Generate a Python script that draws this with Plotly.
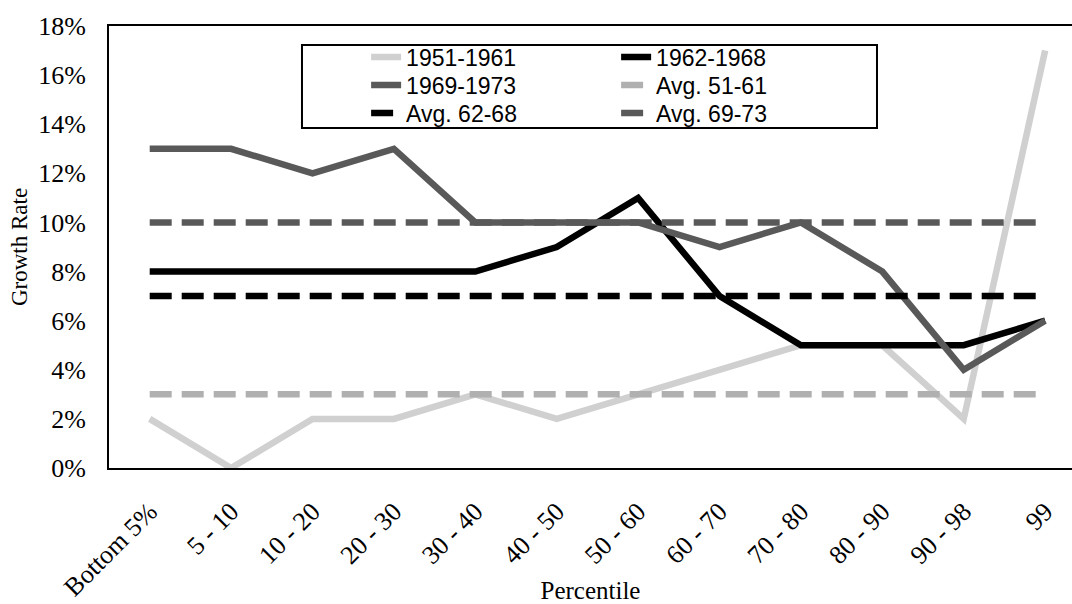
import plotly.graph_objects as go

# Income percentile groups (x-axis categories)
percentiles = ["Bottom 5%", "5 - 10", "10 - 20", "20 - 30", "30 - 40", "40 - 50",
               "50 - 60", "60 - 70", "70 - 80", "80 - 90", "90 - 98", "99"]

# Growth rate (%) by percentile for each period
growth_1951_1961 = [2, 0, 2, 2, 3, 2, 3, 4, 5, 5, 2, 17]
growth_1962_1968 = [8, 8, 8, 8, 8, 9, 11, 7, 5, 5, 5, 6]
growth_1969_1973 = [13, 13, 12, 13, 10, 10, 10, 9, 10, 8, 4, 6]

# Period averages (%)
avg_51_61 = 3
avg_62_68 = 7
avg_69_73 = 10

y_ticks = [0, 2, 4, 6, 8, 10, 12, 14, 16, 18]
y_tick_labels = [f"{v}%" for v in y_ticks]

LIGHT = "#d0d0d0"
MID = "#b0b0b0"
DARK = "#595959"
BLACK = "#000000"
DASH = "22px,10px"
LW = 6.5

fig = go.Figure()

# (name, values, colour, dash, legend row)
series = [
    ("1951-1961", growth_1951_1961, LIGHT, "solid", "legend"),
    ("1962-1968", growth_1962_1968, BLACK, "solid", "legend"),
    ("1969-1973", growth_1969_1973, DARK, "solid", "legend2"),
    ("Avg. 51-61", [avg_51_61] * len(percentiles), MID, DASH, "legend2"),
    ("Avg. 62-68", [avg_62_68] * len(percentiles), BLACK, DASH, "legend3"),
    ("Avg. 69-73", [avg_69_73] * len(percentiles), DARK, DASH, "legend3"),
]

for name, vals, color, dash, leg in series:
    fig.add_trace(go.Scatter(
        x=percentiles, y=vals, name=name, mode="lines",
        line=dict(color=color, width=LW, dash=dash),
        legend=leg,
    ))

legend_font = dict(family="Liberation Sans, Arial, sans-serif", size=23, color="black")
row_legend = dict(
    orientation="h", font=legend_font, bgcolor="rgba(0,0,0,0)",
    borderwidth=0, entrywidth=205, entrywidthmode="pixels",
    xanchor="left", yanchor="middle", traceorder="normal", x=0.267,
)

fig.update_layout(
    width=1072, height=604,
    margin=dict(l=109, r=0, t=26, b=136, autoexpand=False),
    paper_bgcolor="white", plot_bgcolor="white",
    font=dict(family="Liberation Serif, Times New Roman, serif", size=26, color="black"),
    legend=dict(y=0.930, **row_legend),
    legend2=dict(y=0.8665, **row_legend),
    legend3=dict(y=0.803, **row_legend),
    shapes=[dict(
        type="rect", xref="paper", yref="paper",
        x0=0.2004, x1=0.7975, y0=0.769, y1=0.957,
        line=dict(color="black", width=2), fillcolor="rgba(0,0,0,0)",
        layer="above",
    )],
    xaxis=dict(
        type="category", range=[-0.5, 11.33], automargin=False,
        showline=True, linecolor="black", linewidth=2, mirror=True,
        showgrid=False, ticks="", tickangle=-45, ticklabelstandoff=16,
        tickfont=dict(size=26),
        title=dict(text="Percentile", font=dict(size=25), standoff=10),
    ),
    yaxis=dict(
        range=[0, 18], tickmode="array", tickvals=y_ticks, ticktext=y_tick_labels,
        automargin=False,
        showline=True, linecolor="black", linewidth=2,
        showgrid=False, ticks="", zeroline=False, ticklabelstandoff=16,
        tickfont=dict(size=26),
        title=dict(text="Growth Rate", font=dict(size=23), standoff=4),
    ),
)

fig.write_html("out.html")
